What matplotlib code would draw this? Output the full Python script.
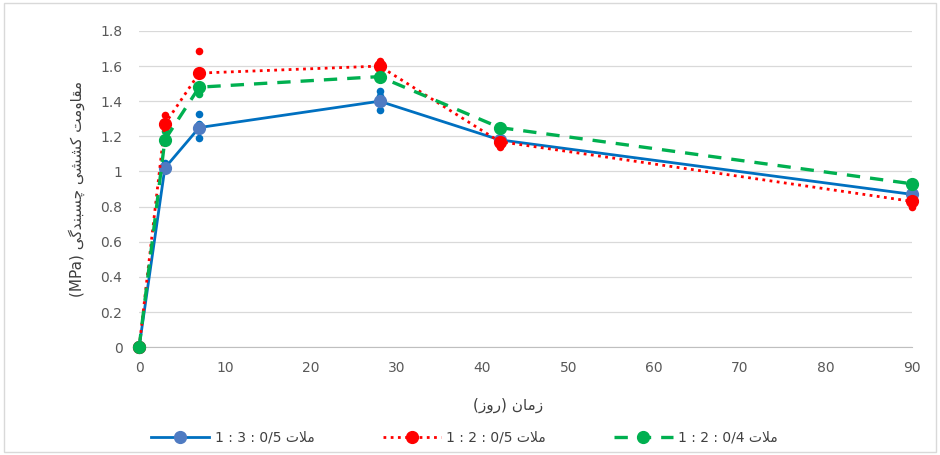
import matplotlib
matplotlib.use("Agg")
import matplotlib.pyplot as plt
from matplotlib.patches import Rectangle

# --- crude arabic/persian shaping (matplotlib does not do it) ---
FORMS = {
    "ا": ("\uFE8D", "\uFE8E", None, None),
    "ب": ("\uFE8F", "\uFE90", "\uFE91", "\uFE92"),
    "ت": ("\uFE95", "\uFE96", "\uFE97", "\uFE98"),
    "چ": ("\uFB7A", "\uFB7B", "\uFB7C", "\uFB7D"),
    "د": ("\uFEA9", "\uFEAA", None, None),
    "ر": ("\uFEAD", "\uFEAE", None, None),
    "ز": ("\uFEAF", "\uFEB0", None, None),
    "س": ("\uFEB1", "\uFEB2", "\uFEB3", "\uFEB4"),
    "ش": ("\uFEB5", "\uFEB6", "\uFEB7", "\uFEB8"),
    "ق": ("\uFED5", "\uFED6", "\uFED7", "\uFED8"),
    "ک": ("\uFB8E", "\uFB8F", "\uFB90", "\uFB91"),
    "گ": ("\uFB92", "\uFB93", "\uFB94", "\uFB95"),
    "ل": ("\uFEDD", "\uFEDE", "\uFEDF", "\uFEE0"),
    "م": ("\uFEE1", "\uFEE2", "\uFEE3", "\uFEE4"),
    "ن": ("\uFEE5", "\uFEE6", "\uFEE7", "\uFEE8"),
    "و": ("\uFEED", "\uFEEE", None, None),
    "ی": ("\uFBFC", "\uFBFD", "\uFBFE", "\uFBFF"),
    "لا": ("\uFEFB", "\uFEFC", None, None),
}


def rtl(word):
    letters = []
    i = 0
    while i < len(word):
        if word[i:i + 2] == "لا":
            letters.append("لا")
            i += 2
        else:
            letters.append(word[i])
            i += 1
    out = []
    for k, ch in enumerate(letters):
        f = FORMS.get(ch)
        if f is None:
            out.append(ch)
            continue
        prev = letters[k - 1] if k > 0 else None
        nxt = letters[k + 1] if k + 1 < len(letters) else None
        join_prev = prev in FORMS and FORMS[prev][2] is not None
        join_next = nxt in FORMS and f[2] is not None
        if join_prev and join_next:
            out.append(f[3])
        elif join_prev:
            out.append(f[1])
        elif join_next:
            out.append(f[2])
        else:
            out.append(f[0])
    return "".join(out)[::-1]


def rtl_words(text):
    return " ".join(rtl(w) for w in text.split(" ")[::-1])


# --- data ---
days = [0, 3, 7, 28, 42, 90]

mean_a = [0, 1.02, 1.25, 1.40, 1.18, 0.87]   # 1:3:0/5
mean_b = [0, 1.27, 1.56, 1.60, 1.17, 0.83]   # 1:2:0/5
mean_c = [0, 1.18, 1.48, 1.54, 1.25, 0.93]   # 1:2:0/4

rep_a_x = [0, 3, 3, 7, 7, 7, 28, 28, 28, 42, 90, 90]
rep_a_y = [0, 1.01, 1.05, 1.33, 1.27, 1.19, 1.46, 1.43, 1.35, 1.19, 0.88, 0.90]
rep_b_x = [3, 3, 3, 7, 7, 28, 28, 28, 42, 42, 90, 90]
rep_b_y = [1.32, 1.28, 1.26, 1.685, 1.57, 1.63, 1.61, 1.60, 1.15, 1.14, 0.84, 0.80]
rep_c_x = [3, 3, 7, 7, 7, 28, 28, 42, 42, 90, 90]
rep_c_y = [1.19, 1.23, 1.55, 1.48, 1.44, 1.55, 1.53, 1.26, 1.24, 0.94, 0.92]

labels = ["1 : 3 : 0/5 " + rtl("ملات"),
          "1 : 2 : 0/5 " + rtl("ملات"),
          "1 : 2 : 0/4 " + rtl("ملات")]

xticks = [0, 10, 20, 30, 40, 50, 60, 70, 80, 90]
yticks = [0, 0.2, 0.4, 0.6, 0.8, 1, 1.2, 1.4, 1.6, 1.8]
ytick_labels = ["0", "0.2", "0.4", "0.6", "0.8", "1", "1.2", "1.4", "1.6", "1.8"]

plt.rcParams["font.family"] = ["DejaVu Sans"]

fig = plt.figure(figsize=(9.4, 4.55), dpi=100)
ax = fig.add_axes([0.148, 0.237, 0.822, 0.695])

fig.patches.append(Rectangle((0.004, 0.006), 0.992, 0.988, transform=fig.transFigure,
                             fill=False, edgecolor="#d9d9d9", linewidth=1))

blue, red, green = "#0070C0", "#FF0000", "#00B050"
blue_mk = "#4F7BC2"

ax.scatter(rep_c_x, rep_c_y, s=30, color=green, zorder=3, linewidths=0, clip_on=False)
ax.scatter(rep_b_x, rep_b_y, s=30, color=red, zorder=3, linewidths=0, clip_on=False)
ax.scatter(rep_a_x, rep_a_y, s=30, color=blue, zorder=3, linewidths=0, clip_on=False)

ax.plot(days, mean_a, color=blue, lw=2.0, marker="o", ms=8.5, mfc=blue_mk, mec=blue_mk,
        zorder=4, label=labels[0], clip_on=False)
ax.plot(days, mean_b, color=red, lw=2.0, ls=(0, (1, 1.6)), marker="o", ms=8.5, mfc=red, mec=red,
        zorder=4, label=labels[1], clip_on=False)
ax.plot(days, mean_c, color=green, lw=2.4, ls=(0, (4, 3)), marker="o", ms=8.5, mfc=green, mec=green,
        zorder=4, label=labels[2], clip_on=False)

ax.set_xlim(0, 90)
ax.set_ylim(0, 1.8)
ax.set_xticks(xticks)
ax.set_yticks(yticks)
ax.set_yticklabels(ytick_labels)
ax.tick_params(axis="y", length=0, labelsize=10, colors="#595959", pad=12)
ax.tick_params(axis="x", length=0, labelsize=10, colors="#595959", pad=10)
ax.grid(axis="y", color="#d9d9d9", lw=0.9)
ax.set_axisbelow(True)
for s in ["top", "right", "left"]:
    ax.spines[s].set_visible(False)
ax.spines["bottom"].set_color("#bfbfbf")

ax.set_xlabel("(" + rtl("روز") + ") " + rtl("زمان"), fontsize=11, color="#404040")
ax.xaxis.set_label_coords(0.477, -0.16)
ax.set_ylabel("(MPa) " + rtl_words("مقاومت کششی چسبندگی"), fontsize=11, color="#404040")
ax.yaxis.set_label_coords(-0.07, 0.5)

ax.legend(loc="upper center", bbox_to_anchor=(0.421, -0.225), ncol=3, frameon=False,
          fontsize=10, handlelength=4.2, handletextpad=0.4, columnspacing=4.9,
          labelcolor="#404040")

fig.savefig("out.png", dpi=100)
